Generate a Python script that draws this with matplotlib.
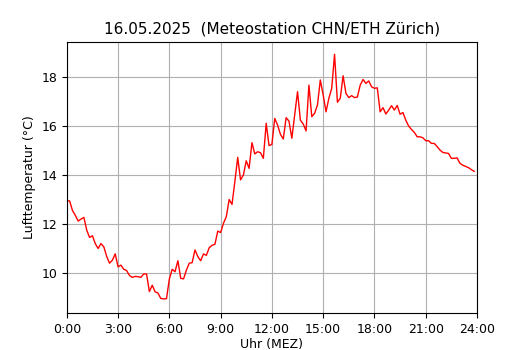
import numpy as np
import matplotlib
matplotlib.use("Agg")
import matplotlib.pyplot as plt

# 10-minute values, 00:00 .. 23:50
temp = [
    12.95, 12.94, 12.55, 12.35, 12.12, 12.20, 12.27, 11.75, 11.45, 11.52,
    11.20, 11.00, 11.20, 11.07, 10.68, 10.40, 10.52, 10.78, 10.25, 10.32,
    10.15, 10.10, 9.90, 9.82, 9.86, 9.85, 9.82, 9.96, 9.96, 9.24,
    9.50, 9.23, 9.18, 8.96, 8.94, 8.95, 9.75, 10.15, 10.05, 10.50,
    9.78, 9.76, 10.12, 10.40, 10.42, 10.94, 10.67, 10.50, 10.78, 10.72,
    11.03, 11.13, 11.17, 11.71, 11.65, 12.03, 12.30, 13.00, 12.80, 13.73,
    14.72, 13.80, 14.00, 14.58, 14.27, 15.32, 14.86, 14.95, 14.91, 14.68,
    16.11, 15.20, 15.25, 16.31, 16.04, 15.66, 15.47, 16.34, 16.20, 15.50,
    16.45, 17.40, 16.24, 16.08, 15.80, 17.67, 16.38, 16.52, 16.86, 17.88,
    17.27, 16.58, 17.13, 17.54, 18.93, 16.97, 17.13, 18.05, 17.33, 17.16,
    17.24, 17.16, 17.18, 17.67, 17.90, 17.74, 17.84, 17.60, 17.54, 17.56,
    16.58, 16.75, 16.49, 16.65, 16.83, 16.65, 16.84, 16.48, 16.55, 16.24,
    16.00, 15.86, 15.74, 15.56, 15.56, 15.52, 15.40, 15.40, 15.29, 15.29,
    15.16, 15.02, 14.92, 14.90, 14.88, 14.68, 14.68, 14.70, 14.48, 14.40,
    14.35, 14.30, 14.22, 14.15,
]
hours = np.arange(len(temp)) / 6.0

tick_hours = [0, 3, 6, 9, 12, 15, 18, 21, 24]
tick_labels = ["0:00", "3:00", "6:00", "9:00", "12:00", "15:00", "18:00", "21:00", "24:00"]

fig, ax = plt.subplots(figsize=(5.3, 3.5), dpi=100)
fig.subplots_adjust(left=0.126, right=0.9, top=0.88, bottom=0.106)
ax.plot(hours, temp, color="red", linewidth=1)
ax.set_xlim(0, 24)
ax.set_ylim(8.37, 19.43)
ax.set_xticks(tick_hours)
ax.set_xticklabels(tick_labels)
ax.set_yticks([10, 12, 14, 16, 18])
ax.tick_params(labelsize=9)
ax.grid(True)
ax.set_xlabel("Uhr (MEZ)", fontsize=9, labelpad=2)
ax.set_ylabel("Lufttemperatur (°C)", fontsize=9)
ax.set_title("16.05.2025  (Meteostation CHN/ETH Zürich)", fontsize=11)

fig.savefig("out.png", dpi=100)
